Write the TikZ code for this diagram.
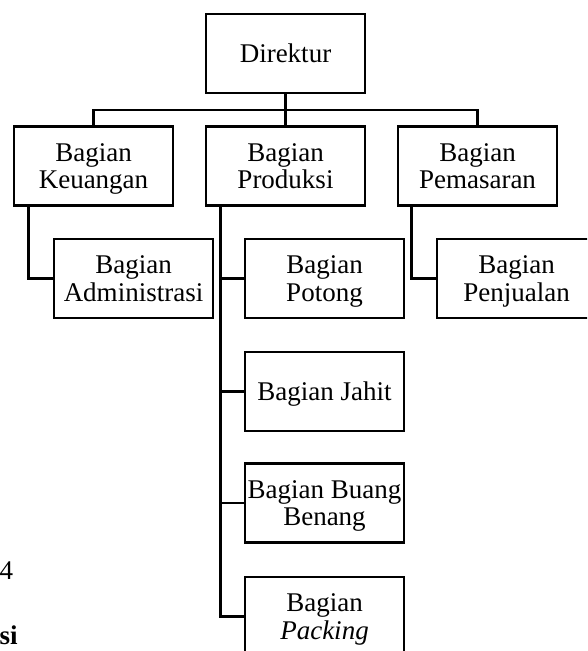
\documentclass[tikz,border=0pt]{standalone}
\usepackage{fontspec}
\setmainfont{Liberation Serif}
\begin{document}
\begin{tikzpicture}[x=1pt,y=-1pt,
  box/.style={draw, line width=2.8pt, minimum width=159pt, minimum height=79pt,
    inner sep=0pt, align=center, text depth=0pt, font=\fontsize{27}{27.7}\selectfont},
  conn/.style={line width=2.8pt},
  frag/.style={inner sep=0pt, font=\fontsize{27}{28}\selectfont}]
\useasboundingbox (0,0) rectangle (587,651);
\clip (0,0) rectangle (587,651);
\node[box] (dir) at (285.5,53.5) {Direktur};
\node[box] (keu) at (93.5,166) {Bagian\\Keuangan};
\node[box] (prod) at (285.5,166) {Bagian\\Produksi};
\node[box] (pem) at (477.5,166) {Bagian\\Pemasaran};
\node[box] (adm) at (133.5,278.5) {Bagian\\Administrasi};
\node[box] (pot) at (324.5,278.5) {Bagian\\Potong};
\node[box] (pen) at (516.5,278.5) {Bagian\\Penjualan};
\node[box] (jah) at (324.5,391.5) {Bagian Jahit};
\node[box] (bua) at (324.5,503) {Bagian Buang\\Benang};
\node[box] (pac) at (324.5,616.5) {Bagian\\\textit{Packing}};
\coordinate (bus) at (285.5,110);
\draw[conn] (dir.south) -- (prod.north);
\draw[conn] (keu.north) |- (bus) -| (pem.north);
\draw[conn] ([xshift=16pt]keu.south west) |- (adm.west);
\coordinate (pv) at ([xshift=16pt]prod.south west);
\draw[conn] (pv) |- (pac.west);
\draw[conn] (pot.west) -- (pot.west -| pv);
\draw[conn] (jah.west) -- (jah.west -| pv);
\draw[conn] (bua.west) -- (bua.west -| pv);
\draw[conn] ([xshift=15pt]pem.south west) |- (pen.west);
\node[frag, anchor=base west] (f4) at (-0.5,579) {4};
\node[frag, anchor=base west] (fsi) at (-0.5,644) {\textbf{si}};
\end{tikzpicture}
\end{document}
